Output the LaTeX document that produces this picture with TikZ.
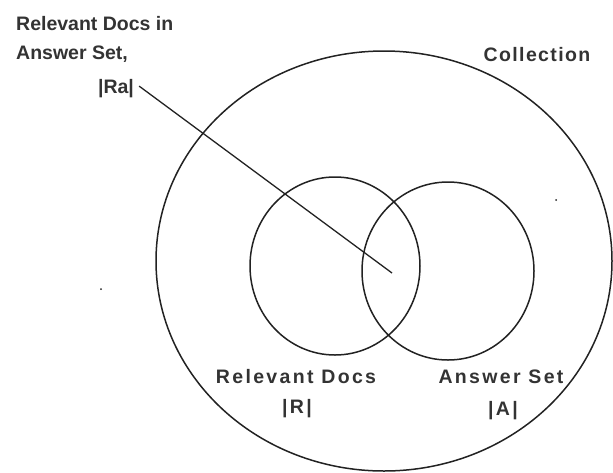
\documentclass[tikz,border=0pt]{standalone}
\usepackage{fontspec}
\setmainfont{Liberation Sans}
\usetikzlibrary{shapes.geometric}
\definecolor{ink}{HTML}{222222}
\definecolor{txt}{HTML}{333333}
\tikzset{
  setshape/.style={draw=ink, line width=1.5pt, ellipse, inner sep=0pt},
  lbl/.style={font=\bfseries\fontsize{19.5}{23}\selectfont, text=txt, inner sep=0pt},
  widelbl/.style={lbl, font=\addfontfeature{LetterSpace=12}\bfseries\fontsize{19.5}{23}\selectfont},
  colllbl/.style={lbl, font=\addfontfeature{LetterSpace=7}\bfseries\fontsize{19.5}{23}\selectfont},
  pointer/.style={draw=ink, line width=1.3pt}
}
\begin{document}
\begin{tikzpicture}[x=1pt,y=-1pt]
\useasboundingbox (0,0) rectangle (613,472);
\node[setshape, minimum width=456pt, minimum height=420pt] (coll) at (384,261) {};
\node[setshape, minimum width=170pt, minimum height=178pt] (rel) at (335,266) {};
\node[setshape, minimum width=172pt, minimum height=178pt] (ans) at (448,271) {};
\node[lbl, anchor=base west] (t1) at (16,30) {Relevant Docs in};
\node[lbl, anchor=base west] (t2) at (16,59) {Answer Set,};
\node[lbl, anchor=base] (ra) at (116,93) {|Ra|};
\node[colllbl, anchor=base] (colltext) at (537,61) {Collection};
\node[widelbl, anchor=base] (reltext) at (296,383) {Relevant Docs};
\node[widelbl, anchor=base] (rtext) at (297,413) {|R|};
\node[widelbl, anchor=base] (anstext) at (501,383) {Answer Set};
\node[widelbl, anchor=base] (atext) at (503,415) {|A|};
\coordinate (tip) at (392,273);
\draw[pointer] ([xshift=5pt,yshift=2pt]ra.east) -- (tip);
\fill[ink] (101,289) circle (1pt);
\fill[ink] (556,200) circle (1pt);
\end{tikzpicture}
\end{document}
